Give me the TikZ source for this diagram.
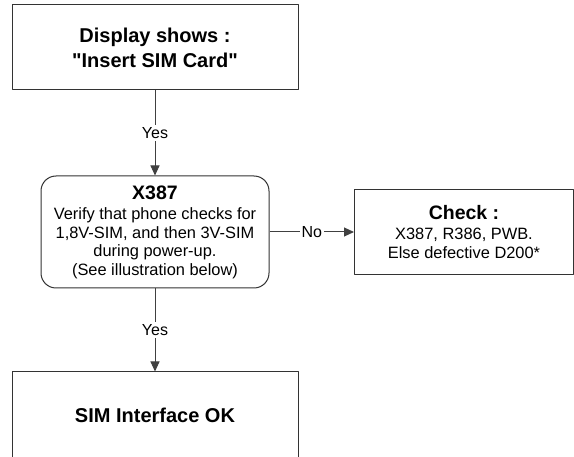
\documentclass[tikz,border=0pt]{standalone}
\usepackage{fontspec}
\setmainfont{Liberation Sans}[Ligatures=TeXOff]
\usepackage{tikz}
\usetikzlibrary{arrows.meta}
\usetikzlibrary{shapes}

\begin{document}
\begin{tikzpicture}[x=1pt,y=-1pt,line join=round]
\tikzstyle{box} = [draw=black!80,fill=white,line width=1pt,inner sep=0pt,align=center,font=\fontsize{16.4}{18.5}\selectfont]
\tikzstyle{ann} = [fill=white,font=\fontsize{16}{18}\selectfont,inner sep=2pt]
\tikzstyle{flow} = [draw=black!75,line width=1pt,-{Triangle[length=10pt,width=9pt]}]
\clip (0,0) rectangle (574,457);
\node[box,minimum width=286pt,minimum height=85pt,font=\bfseries\fontsize{20}{25}\selectfont] (display) at (155,47.5) {Display shows :\\"Insert SIM Card"};
\node[box,rounded corners=15pt,minimum width=228pt,minimum height=112pt] (x387) at (155,232)
  {{\bfseries\fontsize{19.5}{22}\selectfont X387}\\[2pt]Verify that phone checks for\\1,8V-SIM, and then 3V-SIM\\during power-up.\\(See illustration below)};
\node[box,minimum width=219pt,minimum height=85pt] (check) at (464,232)
  {{\bfseries\fontsize{19.5}{22}\selectfont Check :}\\[2pt]X387, R386, PWB.\\Else defective D200*};
\node[box,minimum width=286pt,minimum height=86pt,font=\bfseries\fontsize{20}{25}\selectfont] (simok) at (155,415) {SIM Interface OK};
% connectors
\draw[flow] (display) -- node[ann] {Yes} (x387);
\draw[flow] (x387) -- node[ann] {No} (check);
\draw[flow] (x387) -- node[ann] {Yes} (simok);
\end{tikzpicture}
\end{document}
